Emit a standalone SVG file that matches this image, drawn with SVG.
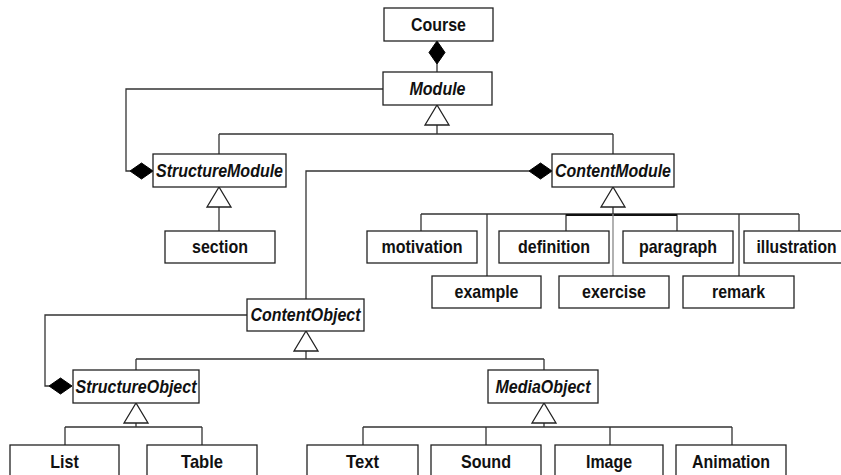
<svg xmlns="http://www.w3.org/2000/svg" width="841" height="475" viewBox="0 0 841 475">
<style>
.box{fill:#fff;stroke:#222;stroke-width:1.3}
.lbl{font-family:"Liberation Sans",Arial,sans-serif;font-size:18.5px;font-weight:bold;fill:#111;text-anchor:middle}
.it{font-style:italic}
.ln{fill:none;stroke:#333;stroke-width:1.3}
.tri{fill:#fff;stroke:#222;stroke-width:1.3}
.dia{fill:#000;stroke:#000;stroke-width:1}
</style>
<defs>
<polygon id="tri" points="0,0 -12,20 12,20"/>
<polygon id="diaH" points="0,0 11.5,-8 23,0 11.5,8"/>
</defs>
<rect width="841" height="475" fill="#fff"/>
<g id="connectors">
<polygon class="dia" points="437,41 445,52.5 437,64 429,52.5"/>
<path class="ln" d="M437,64V72"/>
<path class="ln" d="M437,125V134M219,134H613M219,134V154M613,134V154"/>
<use href="#tri" class="tri" x="437" y="105"/>
<path class="ln" d="M383,89H126V171H130"/>
<use href="#diaH" class="dia" x="130" y="171"/>
<path class="ln" d="M219,207V231"/>
<use href="#tri" class="tri" x="219" y="187"/>
<path class="ln" d="M613,207V214M421,214H799M421,214V231M487,214V276M566,214V231M677,214V231M739,214V276M799,214V231"/>
<path d="M566,215H677" stroke="#111" stroke-width="2.2"/>
<path d="M613,214V276" stroke="#888" stroke-width="1.3"/>
<use href="#tri" class="tri" x="613" y="187"/>
<path class="ln" d="M529,171H306V299"/>
<use href="#diaH" class="dia" x="529" y="171"/>
<path class="ln" d="M306,351V359M136,359H544M136,359V370M544,359V370"/>
<use href="#tri" class="tri" x="306" y="331"/>
<path class="ln" d="M247,315H45V386H49"/>
<use href="#diaH" class="dia" x="49" y="386"/>
<path class="ln" d="M136,423V427M65,427H202M65,427V445M202,427V445"/>
<use href="#tri" class="tri" x="136" y="403"/>
<path class="ln" d="M544,423V427M363,427H732M363,427V445M486,427V445M610,427V445M732,427V445"/>
<use href="#tri" class="tri" x="544" y="403"/>
</g>
<g id="Course"><rect class="box" x="384" y="8" width="109" height="33"/><text class="lbl" x="438.5" y="31" textLength="55" lengthAdjust="spacingAndGlyphs">Course</text></g>
<g id="Module"><rect class="box" x="383" y="72" width="109" height="33"/><text class="lbl it" x="437.5" y="95" textLength="56" lengthAdjust="spacingAndGlyphs">Module</text></g>
<g id="StructureModule"><rect class="box" x="153" y="154" width="133" height="33"/><text class="lbl it" x="219.5" y="176.5" textLength="127" lengthAdjust="spacingAndGlyphs">StructureModule</text></g>
<g id="ContentModule"><rect class="box" x="552" y="154" width="122" height="33"/><text class="lbl it" x="613" y="176.5" textLength="116" lengthAdjust="spacingAndGlyphs">ContentModule</text></g>
<g id="section"><rect class="box" x="165" y="231" width="110" height="32"/><text class="lbl" x="220" y="253" textLength="56" lengthAdjust="spacingAndGlyphs">section</text></g>
<g id="motivation"><rect class="box" x="367" y="231" width="110" height="32"/><text class="lbl" x="422" y="253" textLength="81" lengthAdjust="spacingAndGlyphs">motivation</text></g>
<g id="definition"><rect class="box" x="499" y="231" width="110" height="32"/><text class="lbl" x="554" y="253" textLength="72" lengthAdjust="spacingAndGlyphs">definition</text></g>
<g id="paragraph"><rect class="box" x="623" y="231" width="110" height="32"/><text class="lbl" x="678" y="253" textLength="78" lengthAdjust="spacingAndGlyphs">paragraph</text></g>
<g id="illustration"><rect class="box" x="744" y="231" width="110" height="32"/><text class="lbl" x="796.5" y="253" textLength="80" lengthAdjust="spacingAndGlyphs">illustration</text></g>
<g id="example"><rect class="box" x="432" y="276" width="109" height="32"/><text class="lbl" x="486.5" y="298" textLength="64" lengthAdjust="spacingAndGlyphs">example</text></g>
<g id="exercise"><rect class="box" x="559" y="276" width="110" height="32"/><text class="lbl" x="614" y="298" textLength="64" lengthAdjust="spacingAndGlyphs">exercise</text></g>
<g id="remark"><rect class="box" x="683" y="276" width="111" height="32"/><text class="lbl" x="738.5" y="298" textLength="53" lengthAdjust="spacingAndGlyphs">remark</text></g>
<g id="ContentObject"><rect class="box" x="247" y="299" width="117" height="32"/><text class="lbl it" x="305.5" y="321" textLength="110" lengthAdjust="spacingAndGlyphs">ContentObject</text></g>
<g id="StructureObject"><rect class="box" x="73" y="370" width="126" height="33"/><text class="lbl it" x="136" y="392.5" textLength="121" lengthAdjust="spacingAndGlyphs">StructureObject</text></g>
<g id="MediaObject"><rect class="box" x="488" y="370" width="110" height="33"/><text class="lbl it" x="543" y="392.5" textLength="95" lengthAdjust="spacingAndGlyphs">MediaObject</text></g>
<g id="List"><rect class="box" x="10" y="445" width="109" height="33"/><text class="lbl" x="64.5" y="468" textLength="28.5" lengthAdjust="spacingAndGlyphs">List</text></g>
<g id="Table"><rect class="box" x="147" y="445" width="110" height="33"/><text class="lbl" x="202" y="468" textLength="42" lengthAdjust="spacingAndGlyphs">Table</text></g>
<g id="Text"><rect class="box" x="307" y="445" width="111" height="33"/><text class="lbl" x="362.5" y="468" textLength="33" lengthAdjust="spacingAndGlyphs">Text</text></g>
<g id="Sound"><rect class="box" x="431" y="445" width="110" height="33"/><text class="lbl" x="486" y="468" textLength="50" lengthAdjust="spacingAndGlyphs">Sound</text></g>
<g id="Image"><rect class="box" x="555" y="445" width="108" height="33"/><text class="lbl" x="609" y="468" textLength="46" lengthAdjust="spacingAndGlyphs">Image</text></g>
<g id="Animation"><rect class="box" x="676" y="445" width="110" height="33"/><text class="lbl" x="731" y="468" textLength="78" lengthAdjust="spacingAndGlyphs">Animation</text></g>
</svg>
